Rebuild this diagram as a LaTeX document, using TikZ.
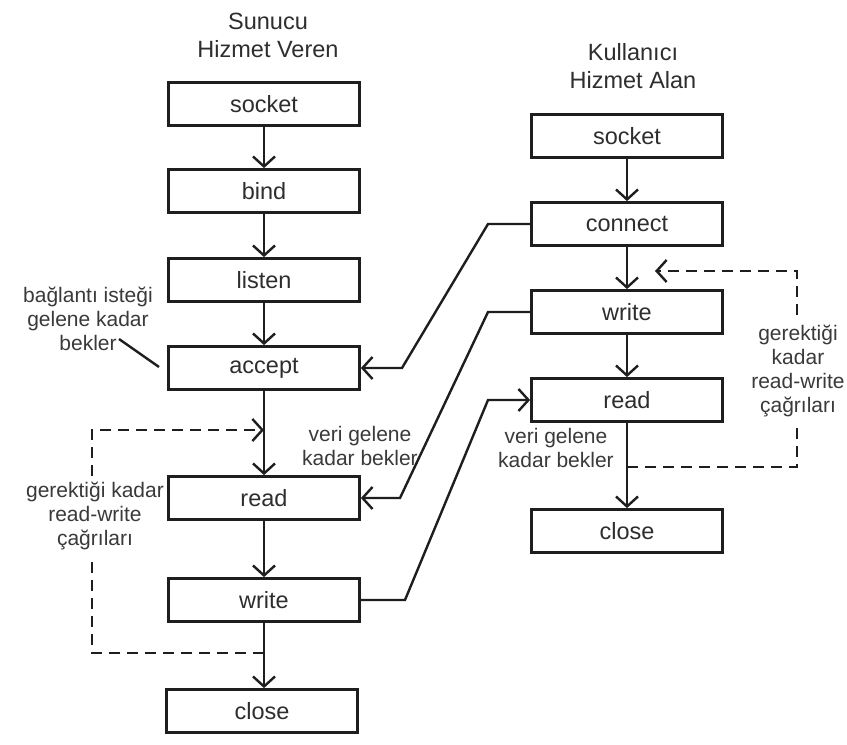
\documentclass[tikz,border=0pt]{standalone}
\usepackage{fontspec}
\setmainfont{Liberation Sans}
\usetikzlibrary{arrows.meta}
\definecolor{ink}{HTML}{1E1E1E}
\definecolor{txt}{HTML}{2E2E2E}
\definecolor{notetxt}{HTML}{3A3A3A}
\begin{document}
\begin{tikzpicture}[x=1pt,y=-1pt,
  box/.style={draw=ink, line width=2.8pt, minimum width=191pt, minimum height=43pt,
    inner sep=0pt, text=txt, font=\fontsize{23.5}{27}\selectfont},
  title/.style={align=center, text=txt, font=\fontsize{23.5}{28}\selectfont},
  note/.style={align=center, text=notetxt, font=\fontsize{21}{24}\selectfont, inner sep=0pt},
  flow/.style={draw=ink, line width=2.4pt, -{Straight Barb[length=10pt,width=22pt,line width=2.4pt]}},
  link/.style={draw=ink, line width=2.4pt},
  loop/.style={draw=ink, line width=2.4pt, dash pattern=on 11pt off 7pt},
  loopend/.style={loop, -{Straight Barb[length=10pt,width=22pt,line width=2.4pt]}}]
\useasboundingbox (0,0) rectangle (847,745);
\fill[white] (0,0) rectangle (847,745);

% column titles
\node[title] (stitle) at (268,35) {Sunucu\\Hizmet Veren};
\node[title] (ctitle) at (633,66) {Kullanıcı\\Hizmet Alan};

% server side
\node[box] (ssocket) at (264,104) {socket};
\node[box] (sbind)   at (264,191) {bind};
\node[box] (slisten) at (264,280) {listen};
\node[box] (saccept) at (264,368) {accept};
\node[box] (sread)   at (264,498) {read};
\node[box] (swrite)  at (264,600) {write};
\node[box] (sclose)  at (262,711) {close};

% client side
\node[box] (csocket)  at (627,136) {socket};
\node[box] (cconnect) at (627,224) {connect};
\node[box] (cwrite)   at (627,312) {write};
\node[box] (cread)    at (627,400) {read};
\node[box] (cclose)   at (627,531) {close};

% sequential flow
\draw[flow] (ssocket) -- (sbind);
\draw[flow] (sbind) -- (slisten);
\draw[flow] (slisten) -- (saccept);
\draw[flow] (saccept) -- (sread);
\draw[flow] (sread) -- (swrite);
\draw[flow] (swrite.south) -- (sclose.north -| swrite.south);
\draw[flow] (csocket) -- (cconnect);
\draw[flow] (cconnect) -- (cwrite);
\draw[flow] (cwrite) -- (cread);
\draw[flow] (cread) -- (cclose);

% messages between the two sides
\draw[flow] (cconnect.west) -- (488,224) -- (402,368) -- (saccept.east);
\draw[flow] (cwrite.west) -- (488,312) -- (400,498) -- (sread.east);
\draw[flow] (swrite.east) -- (405,600) -- (488,400) -- (cread.west);

% notes
\node[note] (waitconn) at (88,319) {bağlantı isteği\\gelene kadar\\bekler};
\draw[link] (119,339) -- (159,367);
\node[note] (swait) at (360,446) {veri gelene\\kadar bekler};
\node[note] (cwait) at (556,448) {veri gelene\\kadar bekler};
\node[note] (sloop) at (95,516) {gerektiği kadar\\read-write\\çağrıları};
\node[note] (cloop) at (798,371) {gerektiği\\kadar\\read-write\\çağrıları};

% repeat loops
\coordinate (sloopin) at (264,430);
\coordinate (sloopout) at (264,653);
\draw[loopend] (92,476) -- (92,430) -- (sloopin);
\draw[loop] (sloopout) -- (92,653) -- (92,556);
\coordinate (cloopout) at (627,467);
\coordinate (cloopin) at (655,271);
\draw[loop] (cloopout) -- (797,467) -- (797,428);
\draw[loopend] (797,315) -- (797,271) -- (cloopin);
\end{tikzpicture}
\end{document}
